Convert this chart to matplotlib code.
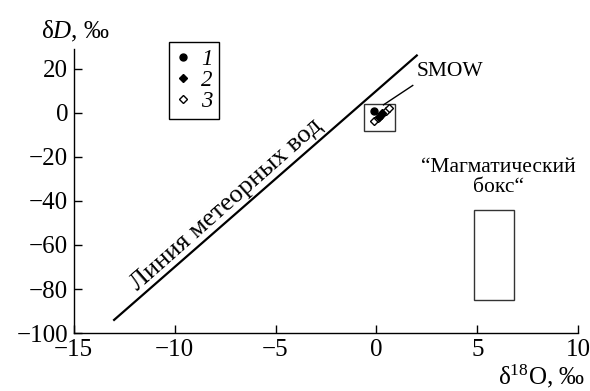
import matplotlib
matplotlib.use("Agg")
import matplotlib.pyplot as plt
from matplotlib.lines import Line2D
from matplotlib.patches import Rectangle

plt.rcParams["font.family"] = ["Liberation Serif", "DejaVu Serif"]
plt.rcParams["mathtext.fontset"] = "custom"
plt.rcParams["mathtext.rm"] = "Liberation Serif"
plt.rcParams["mathtext.it"] = "Liberation Serif:italic"

# meteoric water line endpoints (dD = 8*d18O + 10)
mwl_x = [-13, 2]
mwl_y = [-94, 26]

# samples near SMOW
s1_x = [-0.1]
s1_y = [0.6]
s2_x = [0.23, 0.30, 0.15]
s2_y = [-0.9, 0.0, -1.8]
s3_x = [0.48, 0.64, -0.10, 0.10]
s3_y = [1.0, 2.3, -3.6, -2.3]

# boxes: (x0, y0, width, height)
smow_box = (-0.6, -8.2, 1.5, 12.3)
magma_box = (4.85, -85.0, 1.95, 41.0)

xticks = [-15, -10, -5, 0, 5, 10]
yticks = [-100, -80, -60, -40, -20, 0, 20]
legend_labels = ["1", "2", "3"]

fig = plt.figure(figsize=(5.9, 3.91), dpi=100)
ax = fig.add_axes([0.125, 0.148, 0.855, 0.727])

ax.plot(mwl_x, mwl_y, color="black", lw=1.6)
ax.text(-7.25, -43.6, "Линия метеорных вод", rotation=41.5, fontsize=19,
        ha="center", va="baseline", rotation_mode="anchor")

ax.add_patch(Rectangle(smow_box[:2], smow_box[2], smow_box[3],
                       fill=False, lw=1.0, ec="#333333"))
ax.add_patch(Rectangle(magma_box[:2], magma_box[2], magma_box[3],
                       fill=False, lw=1.0, ec="#333333"))

ax.plot(s3_x, s3_y, ls="none", marker="D", ms=4, mfc="white", mec="black", mew=1)
ax.plot(s2_x, s2_y, ls="none", marker="D", ms=4, color="black")
ax.plot(s1_x, s1_y, ls="none", marker="o", ms=5, color="black")

ax.plot([0.35, 1.8], [3.6, 12.4], color="black", lw=1)
ax.text(2.0, 18.6, "SMOW", fontsize=15.5, ha="left", va="center")
ax.text(6.05, -29.5, "“Магматический\nбокс“", fontsize=15.5, ha="center",
        va="center", linespacing=1.1)

handles = [
    Line2D([], [], ls="none", marker="o", ms=5, color="black"),
    Line2D([], [], ls="none", marker="D", ms=4, color="black"),
    Line2D([], [], ls="none", marker="D", ms=4, mfc="white", mec="black", mew=1),
]
leg = ax.legend(handles, legend_labels, loc="upper left",
                bbox_to_anchor=(169 / 590, 1 - 42 / 391),
                bbox_transform=fig.transFigure,
                prop={"family": "Liberation Serif", "style": "italic", "size": 16.5},
                frameon=True, fancybox=False, framealpha=1, edgecolor="black",
                handlelength=0.6, handletextpad=0.5, labelspacing=0.0,
                borderpad=0.3, borderaxespad=0)
leg.get_frame().set_linewidth(1.0)

ax.set_xlim(-15, 10)
ax.set_ylim(-100, 29)
ax.set_xticks(xticks)
ax.set_yticks(yticks)
ax.set_xticklabels([str(t).replace("-", "−") for t in xticks])
ax.set_yticklabels([str(t).replace("-", "−") for t in yticks])
ax.tick_params(direction="in", length=5.5, width=1, labelsize=18)
ax.tick_params(axis="x", pad=4)
ax.tick_params(axis="y", pad=4)
for side in ["top", "right"]:
    ax.spines[side].set_visible(False)
for side in ["left", "bottom"]:
    ax.spines[side].set_linewidth(1)

fig.text(41 / 590, 1 - 31 / 391, r"δ$D$, $\mathit{‰}$", fontsize=18,
         ha="left", va="center")
fig.text(585 / 590, 1 - 376 / 391, r"δ$^{18}$O, $\mathit{‰}$", fontsize=18,
         ha="right", va="center")

fig.savefig("out.png", dpi=100)
